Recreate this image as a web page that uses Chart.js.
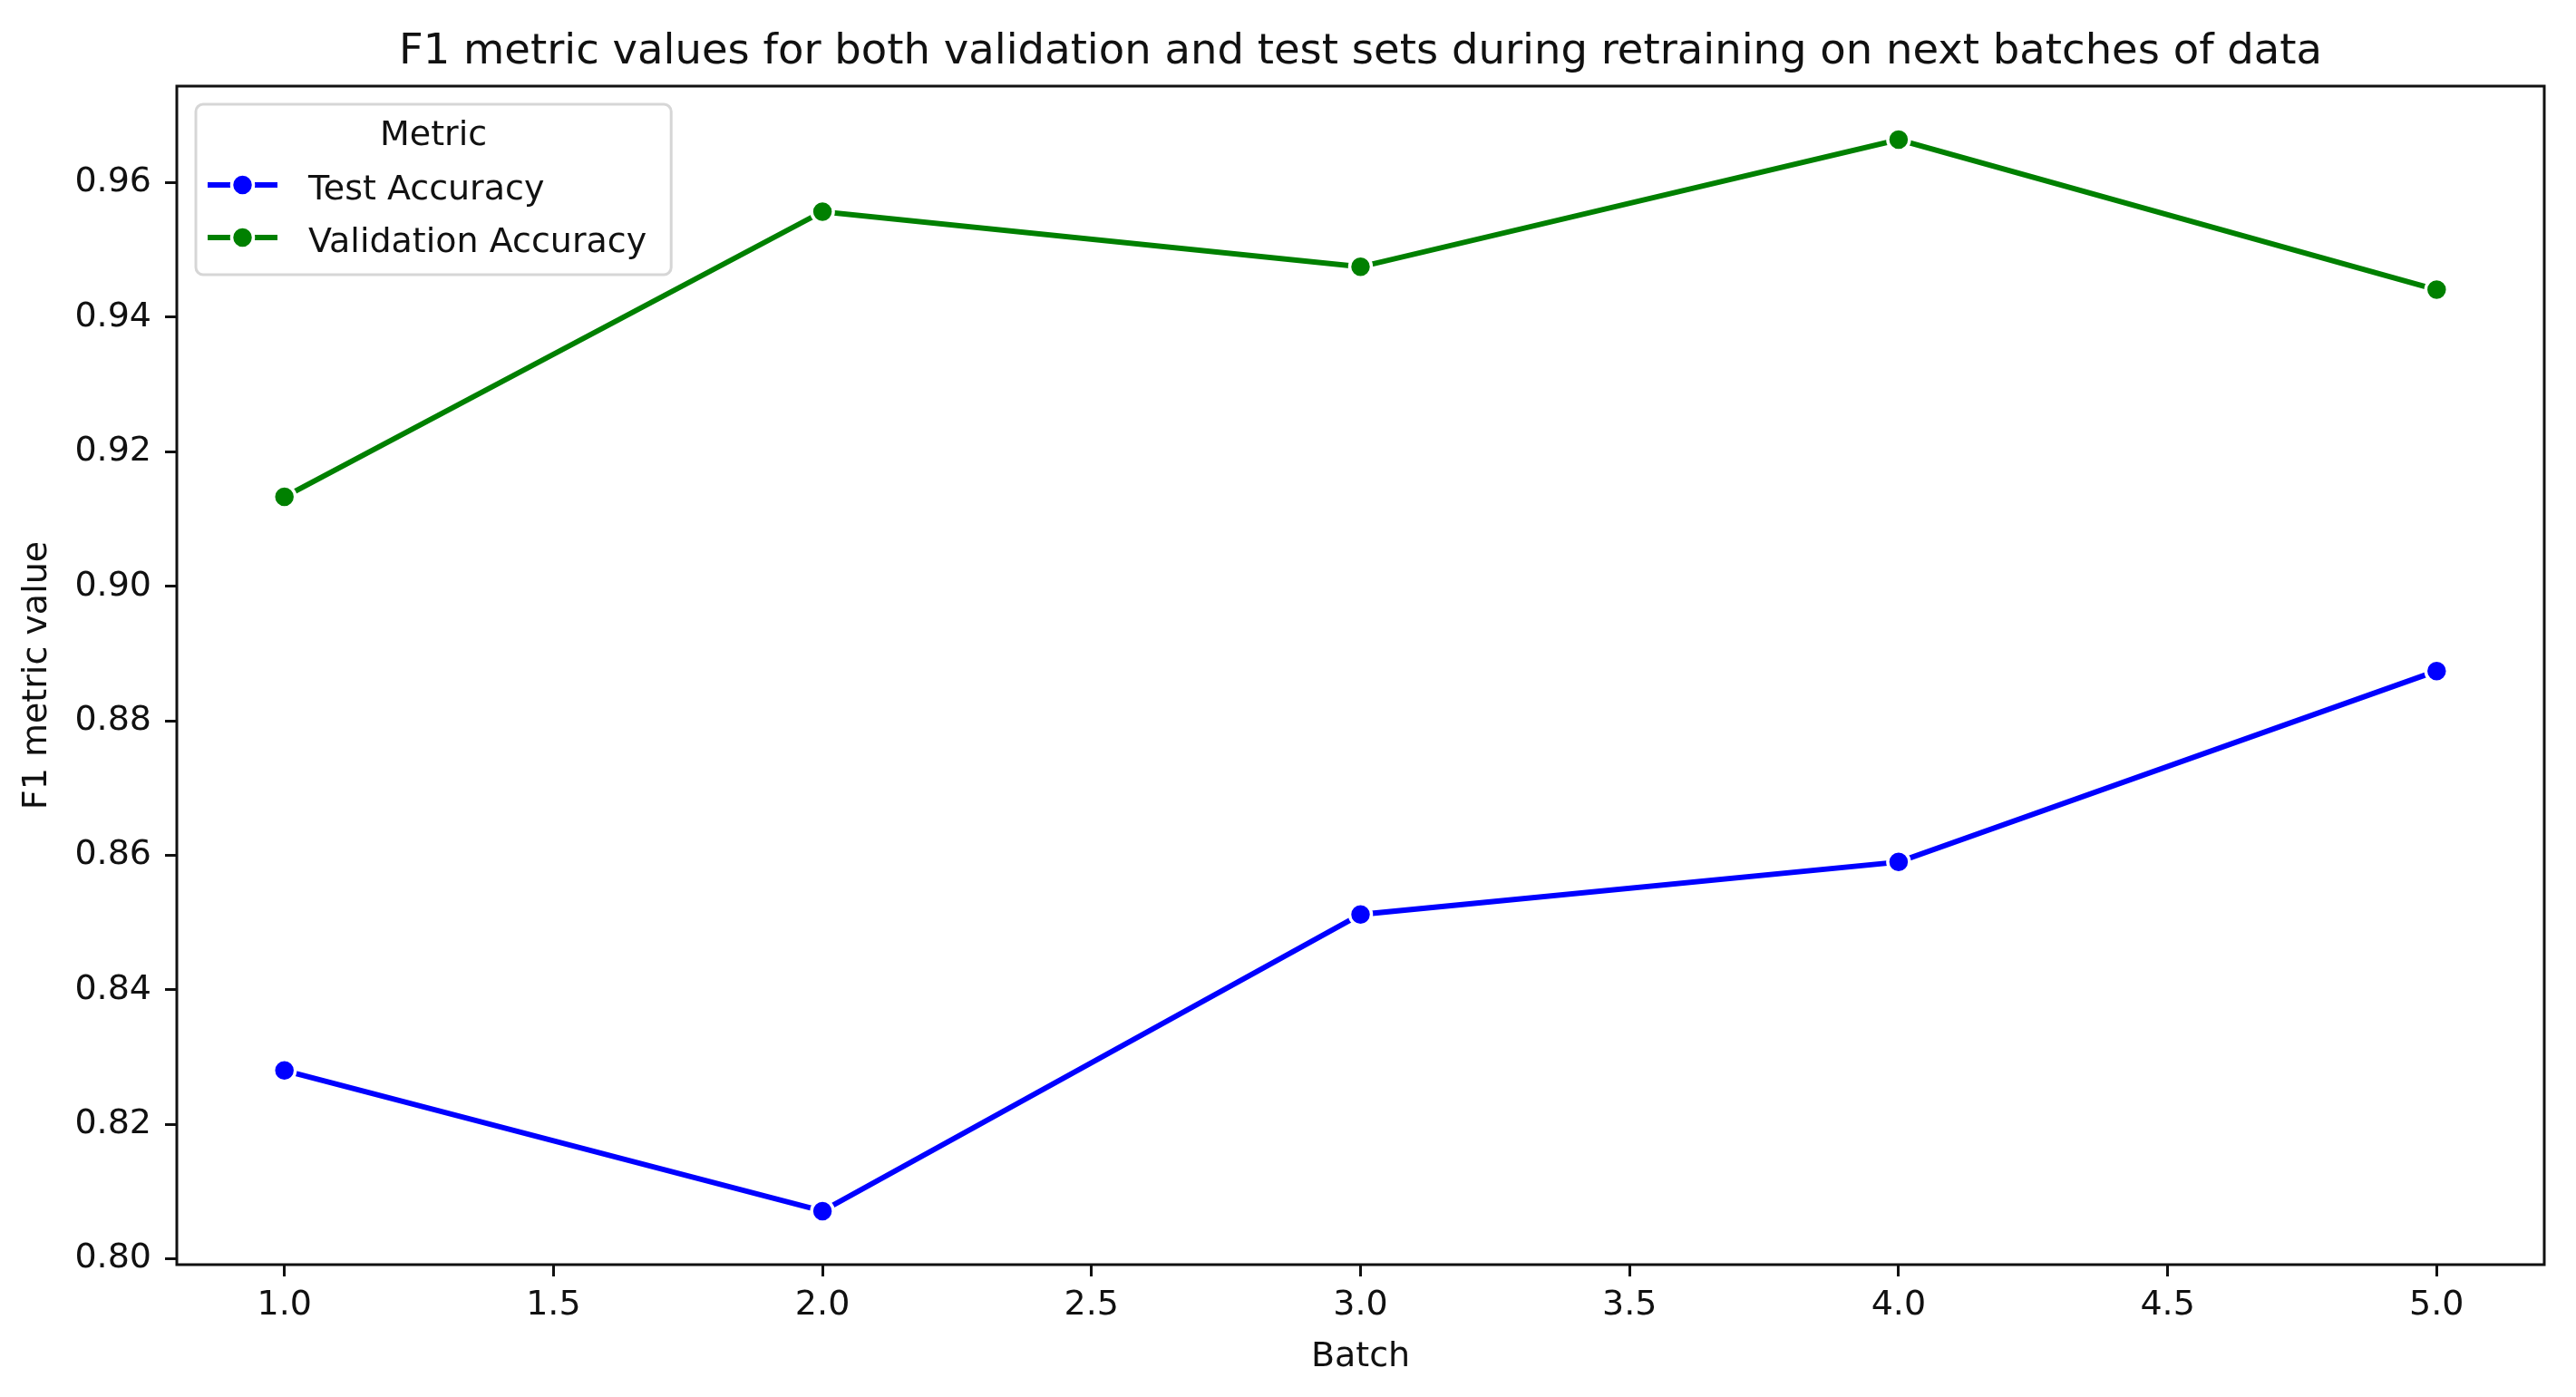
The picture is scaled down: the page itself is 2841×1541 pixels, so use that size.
<!DOCTYPE html>
<html>
<head>
<meta charset="utf-8">
<title>F1 metric values</title>
<script src="https://cdn.jsdelivr.net/npm/chart.js@4.4.1/dist/chart.umd.min.js"></script>
<style>
	html, body { margin: 0; padding: 0; background: #ffffff; }
	canvas { display: block; }
</style>
</head>
<body>
<canvas id="f1Chart" width="2841" height="1541"></canvas>
<script>
	// values
	const batches = [1, 2, 3, 4, 5];
	const testAccuracy = [0.8280, 0.8071, 0.8512, 0.8590, 0.8874];
	const validationAccuracy = [0.9133, 0.9557, 0.9475, 0.9664, 0.9441];
	const xTicks = [1.0, 1.5, 2.0, 2.5, 3.0, 3.5, 4.0, 4.5, 5.0];
	const yTicks = [0.80, 0.82, 0.84, 0.86, 0.88, 0.90, 0.92, 0.94, 0.96];
	const chartTitle = 'F1 metric values for both validation and test sets during retraining on next batches of data';
	const legendTitle = 'Metric';

	const FONT = "'DejaVu Sans', 'Liberation Sans', sans-serif";
	const TEXT = '#111111';
	Chart.defaults.font.family = FONT;
	Chart.defaults.color = TEXT;

	// matplotlib style 5% margins
	function margins(values) {
		var lo = Math.min.apply(null, values), hi = Math.max.apply(null, values);
		var pad = (hi - lo) * 0.05;
		return [lo - pad, hi + pad];
	}
	var xRange = margins(batches);
	var yRange = margins(testAccuracy.concat(validationAccuracy));

	function points(values) {
		return batches.map(function(b, i) { return {x: b, y: values[i]}; });
	}

	// full box around the axes
	const framePlugin = {
		id: 'frame',
		afterDatasetsDraw(chart) {
			const ctx = chart.ctx, ca = chart.chartArea;
			ctx.save();
			ctx.strokeStyle = '#111111';
			ctx.lineWidth = 3;
			ctx.strokeRect(ca.left, ca.top, ca.right - ca.left, ca.bottom - ca.top);
			ctx.restore();
		}
	};

	// title centred over the axes, not the canvas
	const titlePlugin = {
		id: 'axesTitle',
		afterDraw(chart) {
			const ctx = chart.ctx, ca = chart.chartArea;
			ctx.save();
			ctx.font = '46.5px ' + FONT;
			ctx.fillStyle = TEXT;
			ctx.textAlign = 'center';
			ctx.textBaseline = 'alphabetic';
			ctx.fillText(chartTitle, (ca.left + ca.right) / 2, ca.top - 25);
			ctx.restore();
		}
	};

	// legend box inside the upper left corner
	const legendPlugin = {
		id: 'boxLegend',
		afterDraw(chart) {
			const ctx = chart.ctx, ca = chart.chartArea;
			const sets = chart.data.datasets;
			const x0 = ca.left + 21, y0 = ca.top + 20;
			ctx.save();
			ctx.font = '38px ' + FONT;
			var textW = ctx.measureText(legendTitle).width;
			sets.forEach(function(d) { textW = Math.max(textW, ctx.measureText(d.label).width); });
			const hx0 = x0 + 13, hx1 = hx0 + 77;
			const textX = hx1 + 34;
			const w = textX + textW + 27 - x0;
			const h = 188;

			ctx.beginPath();
			ctx.roundRect(x0, y0, w, h, 8);
			ctx.fillStyle = 'rgba(255,255,255,0.8)';
			ctx.fill();
			ctx.strokeStyle = 'rgba(204,204,204,0.8)';
			ctx.lineWidth = 3;
			ctx.stroke();

			ctx.fillStyle = TEXT;
			ctx.textAlign = 'center';
			ctx.textBaseline = 'alphabetic';
			ctx.fillText(legendTitle, x0 + w / 2, y0 + 45);

			sets.forEach(function(d, i) {
				const base = y0 + 105 + i * 58;
				const ly = base - 16;
				const mx = (hx0 + hx1) / 2;
				ctx.strokeStyle = d.borderColor;
				ctx.lineWidth = d.borderWidth;
				ctx.beginPath();
				ctx.moveTo(hx0, ly);
				ctx.lineTo(hx1, ly);
				ctx.stroke();
				ctx.beginPath();
				ctx.arc(mx, ly, d.pointRadius, 0, Math.PI * 2);
				ctx.fillStyle = d.pointBackgroundColor;
				ctx.fill();
				ctx.strokeStyle = d.pointBorderColor;
				ctx.lineWidth = d.pointBorderWidth;
				ctx.stroke();
				ctx.fillStyle = TEXT;
				ctx.textAlign = 'left';
				ctx.fillText(d.label, textX, base);
			});
			ctx.restore();
		}
	};

	function series(label, values, color) {
		return {
			label: label,
			data: points(values),
			borderColor: color,
			backgroundColor: color,
			borderWidth: 6,
			tension: 0,
			pointRadius: 12,
			pointBorderWidth: 3.5,
			pointBorderColor: '#ffffff',
			pointBackgroundColor: color
		};
	}

	new Chart(document.getElementById('f1Chart'), {
		type: 'line',
		data: {
			datasets: [
				series('Test Accuracy', testAccuracy, '#0000ff'),
				series('Validation Accuracy', validationAccuracy, '#008000')
			]
		},
		options: {
			responsive: false,
			animation: false,
			layout: {
				padding: {left: 0, top: 95, right: 35, bottom: 0}
			},
			plugins: {
				legend: {display: false},
				title: {display: false},
				tooltip: {enabled: false}
			},
			scales: {
				x: {
					type: 'linear',
					min: xRange[0],
					max: xRange[1],
					afterFit: function(scale) { scale.height = 146; },
					afterBuildTicks: function(scale) {
						scale.ticks = xTicks.map(function(v) { return {value: v}; });
					},
					ticks: {
						callback: function(v) { return Number(v).toFixed(1); },
						font: {size: 38},
						color: TEXT,
						padding: 9,
						autoSkip: false,
						maxRotation: 0
					},
					grid: {
						drawOnChartArea: false,
						drawTicks: true,
						tickLength: 13,
						tickWidth: 3,
						tickColor: '#111111'
					},
					border: {display: false},
					title: {
						display: true,
						text: 'Batch',
						font: {size: 38},
						color: TEXT,
						padding: {top: 0, bottom: 21}
					}
				},
				y: {
					type: 'linear',
					min: yRange[0],
					max: yRange[1],
					afterFit: function(scale) { scale.width = 195; },
					afterBuildTicks: function(scale) {
						scale.ticks = yTicks.map(function(v) { return {value: v}; });
					},
					ticks: {
						callback: function(v) { return Number(v).toFixed(2); },
						font: {size: 38},
						color: TEXT,
						padding: 15,
						autoSkip: false
					},
					grid: {
						drawOnChartArea: false,
						drawTicks: true,
						tickLength: 13,
						tickWidth: 3,
						tickColor: '#111111'
					},
					border: {display: false},
					title: {
						display: true,
						text: 'F1 metric value',
						font: {size: 38},
						color: TEXT,
						padding: {top: 18, bottom: 0}
					}
				}
			}
		},
		plugins: [framePlugin, titlePlugin, legendPlugin]
	});
</script>
</body>
</html>
